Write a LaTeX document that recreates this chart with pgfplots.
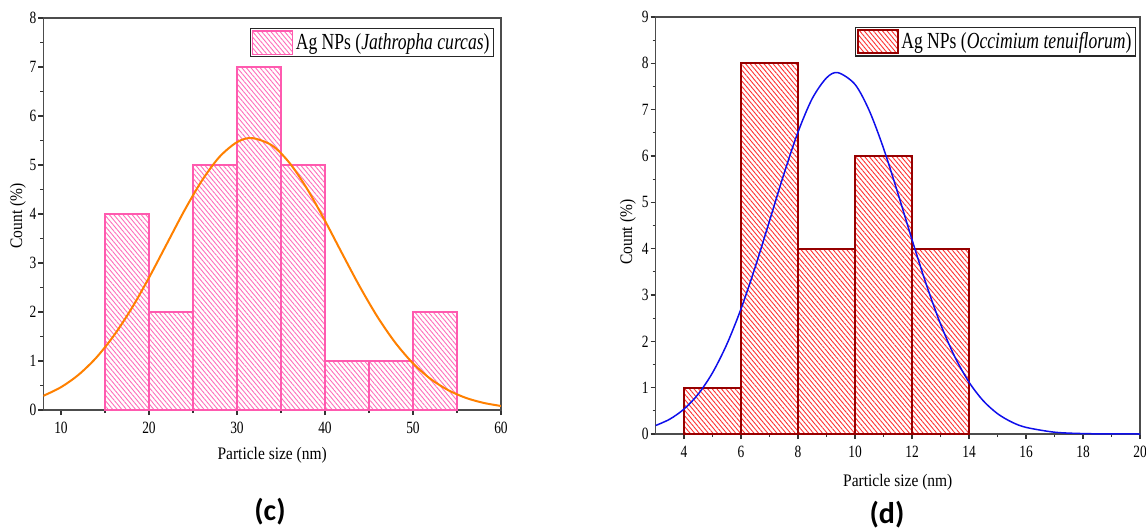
\documentclass[border=0pt]{standalone}
\usepackage{pgfplots}
\pgfplotsset{compat=1.18}
\usetikzlibrary{patterns.meta}
\usepackage{fontspec}
\setmainfont{Liberation Serif}
\newfontfamily\capfont{Carlito}

\definecolor{pinkedge}{RGB}{255,90,175}
\definecolor{pinkhatch}{RGB}{255,110,185}
\definecolor{fitorange}{RGB}{255,128,0}
\definecolor{darkred}{RGB}{150,0,0}
\definecolor{redhatch}{RGB}{255,50,50}
\definecolor{fitblue}{RGB}{15,15,235}

% narrow text, as in the Origin export
\newcommand{\nar}[2][0.78]{\scalebox{#1}[1]{#2}}

\pgfplotsset{
  originstyle/.style={
    scale only axis,
    anchor=south west,
    axis line style={draw=black!70, line width=0.7pt},
    tick align=outside,
    xtick pos=bottom, ytick pos=left,
    major tick length=2.5pt, minor tick length=1.5pt,
    tick style={black!80, line width=0.6pt},
    minor x tick num=1, minor y tick num=1,
    tick label style={font=\fontsize{8.6}{10}\selectfont},
    xticklabel={\nar{\pgfmathprintnumber{\tick}}},
    yticklabel={\nar{\pgfmathprintnumber{\tick}}},
    yticklabel style={inner xsep=0.8pt},
    /pgf/number format/assume math mode=true,
    label style={font=\fontsize{8.8}{10}\selectfont},
    ylabel={\nar[0.88]{Count (\%)}},
    xlabel={\nar[0.88]{Particle size (nm)}},
    legend style={draw=black!85, line width=0.6pt, font=\fontsize{11.5}{13}\selectfont,
      inner sep=0.8pt, nodes={inner xsep=1.2pt, inner ysep=1pt}, legend cell align=left},
    legend image code/.code={\draw[#1] (0pt,-5.8pt) rectangle (20pt,5.8pt);},
  }
}

\begin{document}
\begin{tikzpicture}[x=1pt,y=1pt]
\useasboundingbox (0,0) rectangle (573,265.5);

% (c) Jathropha curcas
\begin{axis}[originstyle,
  at={(21.7pt,60.5pt)}, width=228.8pt, height=196pt,
  xmin=8, xmax=60, ymin=0, ymax=8,
  xtick={10,20,...,60}, ytick={0,1,...,8},
  xlabel style={at={(axis description cs:0.5,0)}, anchor=center, yshift=-22.5pt},
  ylabel style={at={(axis description cs:-0.0555,0.495)}, anchor=center},
  legend style={at={(0.985,0.974)}, anchor=north east},
]
\addplot[ybar interval, draw=pinkedge, line width=0.6pt,
  pattern={Lines[angle=-50,distance=1.75pt,line width=0.45pt]}, pattern color=pinkhatch]
  coordinates {(15,4) (20,2) (25,5) (30,7) (35,5) (40,1) (45,1) (50,2) (55,2)};
\addlegendentry{\nar[0.765]{Ag NPs (\textit{Jathropha curcas})}}
\addplot[fitorange, line width=1pt, smooth, forget plot] coordinates {
  (8,0.29) (10,0.466) (12,0.720) (14,1.067) (16,1.517) (18,2.066) (20,2.700)
  (22,3.382) (24,4.063) (26,4.678) (28,5.164) (30,5.466) (31.7,5.55) (34,5.397)
  (36,5.036) (38,4.504) (40,3.862) (42,3.176) (44,2.503) (46,1.891) (48,1.371)
  (50,0.952) (52,0.634) (54,0.405) (56,0.248) (58,0.146) (60,0.082)};
\end{axis}

% (d) Occimium tenuiflorum
\begin{axis}[originstyle,
  at={(327.75pt,48.5pt)}, width=242.25pt, height=208.5pt,
  xmin=3, xmax=20, ymin=0, ymax=9,
  xtick={4,6,...,20}, ytick={0,1,...,9},
  xlabel style={at={(axis description cs:0.5,0)}, anchor=center, yshift=-24pt},
  ylabel style={at={(axis description cs:-0.0568,0.484)}, anchor=center},
  legend style={at={(0.992,0.976)}, anchor=north east},
]
\addplot[ybar interval, draw=darkred, line width=1pt,
  pattern={Lines[angle=-50,distance=1.75pt,line width=0.45pt]}, pattern color=redhatch]
  coordinates {(4,1) (6,8) (8,4) (10,6) (12,4) (14,4)};
\addlegendentry{\nar[0.765]{Ag NPs (\textit{Occimium tenuiflorum})}}
\addplot[fitblue, line width=0.75pt, smooth, forget plot] coordinates {
  (3,0.182) (3.5,0.320) (4,0.538) (4.5,0.862) (5,1.321) (5.5,1.933) (6,2.700)
  (6.5,3.606) (7,4.599) (7.5,5.601) (8,6.516) (8.5,7.241) (9,7.686) (9.4,7.8)
  (10,7.546) (10.5,6.980) (11,6.168) (11.5,5.204) (12,4.195) (12.5,3.230)
  (13,2.375) (13.5,1.668) (14,1.119) (14.5,0.717) (15,0.439) (15.5,0.257)
  (16,0.143) (17,0.039) (18,0.009) (19,0.002) (20,0.0)};
\end{axis}

\node[font=\capfont\bfseries\fontsize{15}{17}\selectfont] at (135,9.5) {(c)};
\node[font=\capfont\bfseries\fontsize{15}{17}\selectfont] at (443.5,8.3) {(d)};
\end{tikzpicture}
\end{document}
